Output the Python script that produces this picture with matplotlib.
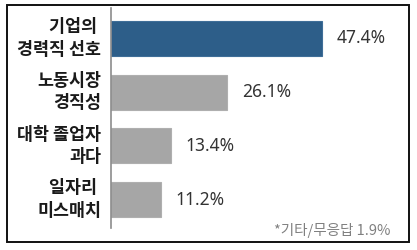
import matplotlib
matplotlib.use("Agg")
import matplotlib.pyplot as plt
from matplotlib.patches import Rectangle

categories = ["기업의 \n경력직 선호", "노동시장\n경직성", "대학 졸업자\n과다", "일자리 \n미스매치"]
values = [47.4, 26.1, 13.4, 11.2]
colors = ["#2D5E89", "#A6A6A6", "#A6A6A6", "#A6A6A6"]
value_labels = ["47.4%", "26.1%", "13.4%", "11.2%"]
footnote = "*기타/무응답 1.9%"

plt.rcParams['font.family'] = ['Noto Sans CJK KR', 'DejaVu Sans']

W, H = 417, 250
fig = plt.figure(figsize=(W / 100, H / 100), dpi=100)

ax = fig.add_axes([111 / W, 1 - 228 / H, (400 - 111) / W, (228 - 8) / H])
pos = list(range(len(values)))
ax.barh(pos, values, height=0.65, color=colors, edgecolor=["#3F6E98", "#AFAFAF", "#AFAFAF", "#AFAFAF"], linewidth=0.8)
ax.set_xlim(0, 289 / 4.45)
ax.set_ylim(3.531, -0.568)
for s in ["top", "right", "bottom"]:
    ax.spines[s].set_visible(False)
ax.spines["left"].set_color("#8C8C8C")
ax.spines["left"].set_linewidth(1.2)
ax.set_xticks([])
ax.set_yticks([])

for p, v, lab, cat in zip(pos, values, value_labels, categories):
    ax.text(v + 3.3, p, lab, va="center", ha="left", fontsize=12.5, color="#333333",
            family=['Noto Sans', 'DejaVu Sans'])
    ax.text(-2.2, p, cat, va="center", ha="right", fontsize=12.5, fontweight="bold",
            color="#1A1A1A", linespacing=1.3)

fig.text(390 / W, 1 - 231 / H, footnote, ha="right", va="center", fontsize=10.5, color="#808080")

fig.patches.append(Rectangle((7 / W, 1 - 242 / H), (409 - 7) / W, (242 - 5) / H,
                             transform=fig.transFigure, fill=False, edgecolor="#111111", linewidth=1.4))

fig.savefig("out.png", dpi=100)
